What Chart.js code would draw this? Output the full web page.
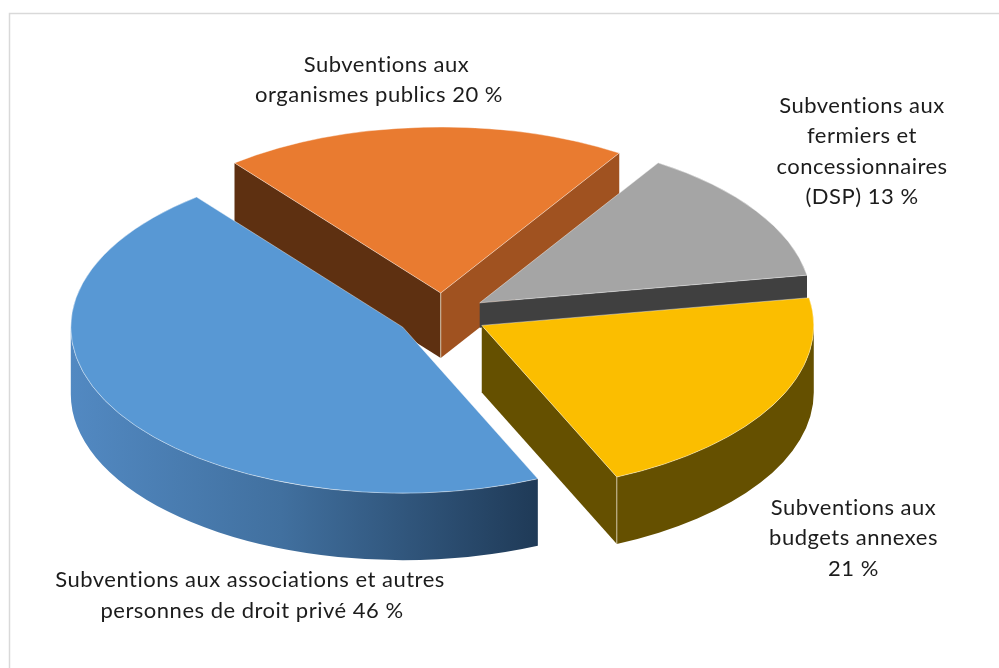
<!DOCTYPE html>
<html><head><meta charset="utf-8">
<style>html,body{margin:0;padding:0;background:#fff}canvas{display:block}</style>
<script src="https://cdn.jsdelivr.net/npm/chart.js@4"></script>
</head><body>
<canvas id="c" width="999" height="668"></canvas>
<script>
const categories = ["Subventions aux associations et autres personnes de droit privé","Subventions aux organismes publics","Subventions aux fermiers et concessionnaires (DSP)","Subventions aux budgets annexes"];
const shares = [46, 19.7, 13.3, 21];
const topColors = ["#5898d4", "#e97b30", "#a5a5a5", "#fbbe00"];
const cutWallColors = [null, "#5e3011", "#404040", "#655000"];
const sideColors = [null, "#a05220", "#404040", "#655000"];
const depths = [67, 65, 25, 67];
const explodes = [47, 44, 44, 44];

const blockLabels = [
  {cx:250, y:587, lines:["Subventions aux associations et autres"]},
  {cx:252, y:618, lines:["personnes de droit privé 46 %"]},
  {cx:386.5, y:72,  lines:["Subventions aux"]},
  {cx:379, y:102, lines:["organismes publics 20 %"]},
  {cx:862, y:113, lines:["Subventions aux","fermiers et","concessionnaires","(DSP) 13 %"]},
  {cx:853.5, y:515, lines:["Subventions aux","budgets annexes","21 %"]}
];

const SQUASH = 0.5;

function center(chart){
  const a = chart.chartArea;
  return {x:(a.left+a.right)/2, y:(a.top+a.bottom)/2};
}
function geom(el, c){
  return {ox:el.x, oy:c.y + (el.y-c.y)*SQUASH, R:el.outerRadius, s:el.startAngle, e:el.endAngle};
}
function pt(g,a){ return [g.ox+g.R*Math.cos(a), g.oy+g.R*SQUASH*Math.sin(a)]; }

const pie3d = {
  id:'pie3d',
  afterDatasetsUpdate(chart){
    const c = center(chart);
    chart.getDatasetMeta(0).data.forEach((el,i)=>{
      const m=(el.startAngle+el.endAngle)/2;
      el.x=c.x+Math.cos(m)*explodes[i]; el.y=c.y+Math.sin(m)*explodes[i];
    });
  },
  beforeDatasetsDraw(chart){
    const ctx=chart.ctx, c=center(chart), els=chart.getDatasetMeta(0).data;
    [1,2,3,0].forEach(i=>{
      const g=geom(els[i],c), D=depths[i];
      const cut=(a,col)=>{
        const p=pt(g,a);
        ctx.beginPath();ctx.moveTo(g.ox,g.oy);ctx.lineTo(p[0],p[1]);ctx.lineTo(p[0],p[1]+D);ctx.lineTo(g.ox,g.oy+D);ctx.closePath();
        ctx.fillStyle=col;ctx.fill();
      };
      if(Math.sin(g.s-Math.PI/2)>0 && cutWallColors[i]) cut(g.s,cutWallColors[i]);
      if(Math.cos(g.e)>0 && sideColors[i]) cut(g.e, i===3?cutWallColors[i]:sideColors[i]);
      const TAU=Math.PI*2;
      let s=g.s, e=g.e;
      while(s<0){s+=TAU;e+=TAU;}
      while(s>=TAU){s-=TAU;e-=TAU;}
      const ranges=[[s,Math.min(e,Math.PI)],[Math.max(s,TAU),Math.min(e,TAU+Math.PI)]];
      ranges.forEach(r=>{
        if(r[1]<=r[0])return;
        ctx.beginPath();
        ctx.ellipse(g.ox,g.oy,g.R,g.R*SQUASH,0,r[0],r[1],false);
        ctx.ellipse(g.ox,g.oy+D,g.R,g.R*SQUASH,0,r[1],r[0],true);
        ctx.closePath();
        if(i===0){
          const a=pt(g,r[1]), b=pt(g,r[0]);
          const gr=ctx.createLinearGradient(a[0],0,b[0],0);
          gr.addColorStop(0,"#5289c2");gr.addColorStop(.45,"#41709f");gr.addColorStop(1,"#1f3a57");
          ctx.fillStyle=gr;
        } else ctx.fillStyle=sideColors[i];
        ctx.fill();
      });
      ctx.strokeStyle="rgba(235,225,205,.75)";ctx.lineWidth=1;
      if(i===1||i===3){
        const p = i===1?[g.ox,g.oy]:pt(g,g.e);
        ctx.beginPath();ctx.moveTo(p[0],p[1]);ctx.lineTo(p[0],p[1]+D);ctx.stroke();
      }
    });
    ctx.save();
    ctx.translate(0,c.y);ctx.scale(1,SQUASH);ctx.translate(0,-c.y);
  },
  afterDatasetsDraw(chart){
    chart.ctx.restore();
  },
  afterDraw(chart){
    const ctx=chart.ctx;
    ctx.save();
    ctx.strokeStyle="#d9d9d9";ctx.lineWidth=1.5;
    ctx.strokeRect(9.5,13.5,1100,1100);
    ctx.fillStyle="#1c1c1c";ctx.font="22px Lato";ctx.letterSpacing="0.5px";
    ctx.textAlign="center";ctx.textBaseline="alphabetic";
    blockLabels.forEach(b=>b.lines.forEach((t,i)=>ctx.fillText(t,b.cx,b.y+i*30.4)));
    ctx.restore();
  }
};

new Chart(document.getElementById('c'),{
  type:'pie',
  data:{labels:categories,datasets:[{data:shares,backgroundColor:topColors,borderColor:"rgba(255,255,255,.55)",borderWidth:1,clip:false}]},
  options:{
    responsive:false,animation:false,rotation:156,radius:332,
    layout:{padding:{right:113,bottom:38}},
    plugins:{legend:{display:false},tooltip:{enabled:false}}
  },
  plugins:[pie3d]
});
</script>
</body></html>
